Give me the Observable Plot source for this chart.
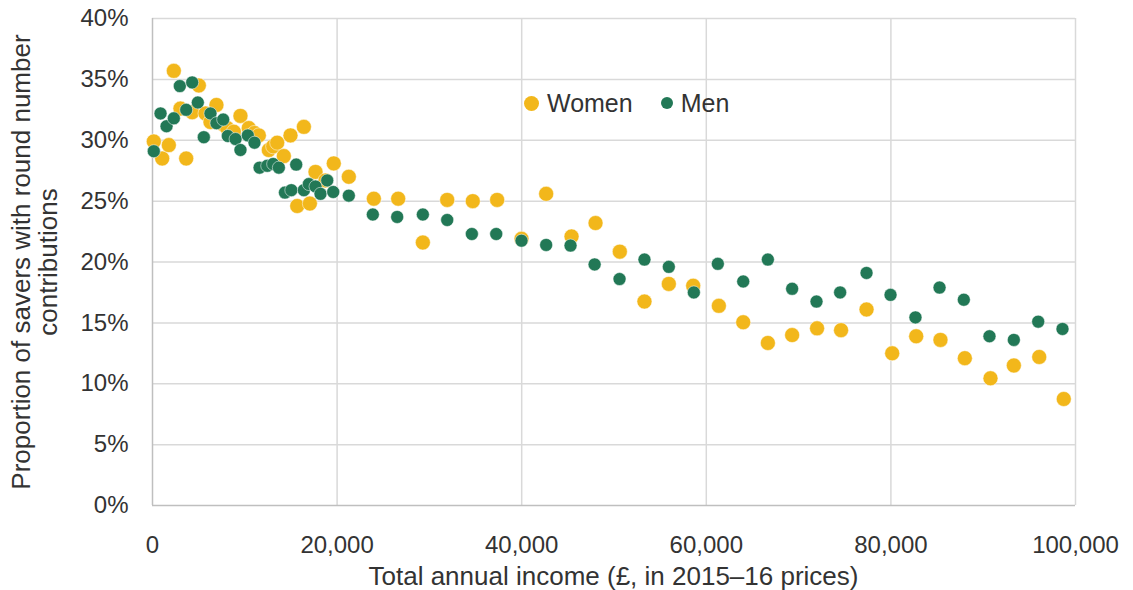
<!DOCTYPE html>
<html>
<head>
<meta charset="utf-8">
<script src="https://cdn.jsdelivr.net/npm/d3@7"></script>
<script src="https://cdn.jsdelivr.net/npm/@observablehq/plot@0.6"></script>
<style>
  html, body { margin: 0; padding: 0; background: #fff; }
  #wrap { position: relative; width: 1133px; height: 590px; font-family: "Liberation Sans", Arial, sans-serif; color: #333; }
  #wrap svg { position: absolute; left: 0; top: 0; }
  .xtitle { position: absolute; left: 152px; width: 923px; top: 561px; text-align: center; font-size: 26px; line-height: 30px; }
  .ytitle { position: absolute; left: 35px; top: 262px; width: 540px; margin-left: -270px; margin-top: -27px; text-align: center; font-size: 26px; line-height: 27px; transform: rotate(-90deg); }
  .legend { position: absolute; left: 524px; top: 86px; font-size: 25px; line-height: 30px; white-space: nowrap; }
  .legend span.sw { display: inline-block; border-radius: 50%; vertical-align: middle; }
</style>
</head>
<body>
<div id="wrap"></div>
<script>
// ---- data ----
const seriesNames = ["Women", "Men"];
const seriesColors = ["#f2b71b", "#227856"];

const incomeWomen = [140, 1050, 1770, 2310, 3030, 3650, 4300, 5020, 5740, 6280, 6930, 7660, 8090, 8810, 9530, 10430, 11050, 11520, 12600, 13070, 13510, 14230, 14950, 15680, 16400, 17050, 17660, 18740, 19640, 21270, 23980, 26620, 29290, 31930, 34700, 37340, 39980, 42650, 45400, 48000, 50630, 53300, 55940, 58580, 61360, 64000, 66670, 69300, 72000, 74600, 77360, 80140, 82740, 85370, 88010, 90790, 93320, 96070, 98730];
const shareWomen = [29.9, 28.5, 29.6, 35.7, 32.6, 28.5, 32.3, 34.5, 32.2, 31.5, 32.9, 31.3, 31.0, 30.7, 32.0, 31.0, 30.6, 30.4, 29.2, 29.5, 29.8, 28.7, 30.4, 24.6, 31.1, 24.8, 27.4, 26.7, 28.1, 27.0, 25.2, 25.2, 21.6, 25.1, 25.0, 25.1, 21.9, 25.6, 22.1, 23.2, 20.85, 16.75, 18.2, 18.05, 16.4, 15.05, 13.35, 14.0, 14.55, 14.4, 16.1, 12.5, 13.9, 13.6, 12.1, 10.45, 11.5, 12.2, 8.75];

const incomeMen = [140, 870, 1520, 2310, 2960, 3650, 4300, 4910, 5560, 6280, 6930, 7660, 8160, 9000, 9530, 10330, 11050, 11600, 12430, 13070, 13690, 14350, 15040, 15570, 16400, 16940, 17660, 18200, 18930, 19580, 21270, 23870, 26510, 29290, 31930, 34600, 37240, 39980, 42650, 45290, 47900, 50600, 53300, 55940, 58650, 61250, 64000, 66670, 69300, 71940, 74500, 77360, 79960, 82660, 85270, 87900, 90680, 93320, 95960, 98590];
const shareMen = [29.1, 32.2, 31.15, 31.8, 34.45, 32.5, 34.75, 33.1, 30.25, 32.2, 31.4, 31.7, 30.35, 30.1, 29.2, 30.4, 29.8, 27.75, 27.9, 28.05, 27.75, 25.7, 25.9, 28.0, 25.9, 26.4, 26.2, 25.6, 26.7, 25.75, 25.45, 23.9, 23.7, 23.9, 23.45, 22.3, 22.3, 21.75, 21.4, 21.35, 19.8, 18.6, 20.2, 19.6, 17.5, 19.85, 18.4, 20.2, 17.8, 16.75, 17.5, 19.1, 17.3, 15.45, 17.9, 16.9, 13.9, 13.6, 15.1, 14.5];

const xTicks = [0, 20000, 40000, 60000, 80000, 100000];
const yTicks = [0, 5, 10, 15, 20, 25, 30, 35, 40];

const xTitle = "Total annual income (£, in 2015–16 prices)";
const yTitleLines = ["Proportion of savers with round number", "contributions"];

// ---- build ----
const women = incomeWomen.map((x, i) => ({income: x, share: shareWomen[i]}));
const men = incomeMen.map((x, i) => ({income: x, share: shareMen[i]}));

const chart = Plot.plot({
  width: 1133,
  height: 590,
  marginLeft: 152,
  marginRight: 58,
  marginTop: 18,
  marginBottom: 85,
  style: {fontFamily: '"Liberation Sans", Arial, sans-serif', fontSize: "24px", color: "#333", background: "#fff", overflow: "visible"},
  x: {domain: [0, 100000], ticks: xTicks, tickFormat: d3.format(","), tickSize: 0, tickPadding: 30, label: null},
  y: {domain: [0, 40], ticks: yTicks, tickFormat: d => d + "%", tickSize: 0, tickPadding: 24, label: null},
  marks: [
    Plot.ruleX(xTicks.slice(1), {stroke: "#d9d9d9", strokeWidth: 1.5}),
    Plot.ruleY(yTicks.slice(1), {stroke: "#d9d9d9", strokeWidth: 1.5}),
    Plot.ruleX([0], {stroke: "#bfbfbf", strokeWidth: 1.5}),
    Plot.ruleY([0], {stroke: "#bfbfbf", strokeWidth: 1.5}),
    Plot.dot(women, {x: "income", y: "share", r: 7.5, fill: seriesColors[0], stroke: "#fff", strokeWidth: 0.5}),
    Plot.dot(men, {x: "income", y: "share", r: 6.5, fill: seriesColors[1], stroke: "#fff", strokeWidth: 0.5})
  ]
});

const wrap = document.getElementById("wrap");
wrap.appendChild(chart);

const xt = document.createElement("div");
xt.className = "xtitle";
xt.textContent = xTitle;
wrap.appendChild(xt);

const yt = document.createElement("div");
yt.className = "ytitle";
yt.innerHTML = yTitleLines.join("<br>");
wrap.appendChild(yt);

const lg = document.createElement("div");
lg.className = "legend";
const sizes = [15, 12];
const gaps = ["8px", "8px"];
lg.innerHTML = seriesNames.map((n, i) =>
  `<span class="sw" style="width:${sizes[i]}px;height:${sizes[i]}px;background:${seriesColors[i]};margin-right:${gaps[i]}"></span><span style="vertical-align:middle">${n}</span>`
).join('<span style="display:inline-block;width:28px"></span>');
wrap.appendChild(lg);
</script>
</body>
</html>
